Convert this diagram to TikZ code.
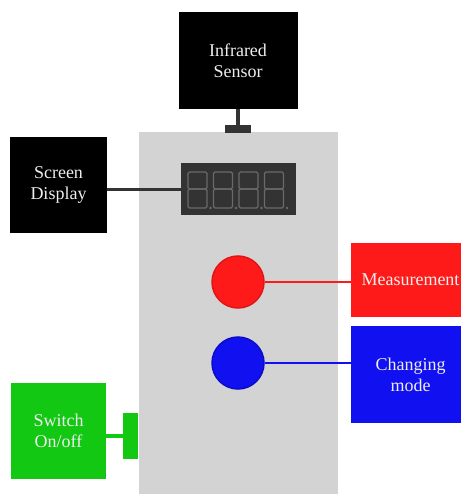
\documentclass[tikz,border=0pt]{standalone}
\usepackage{fontspec}
\setmainfont{Liberation Serif}
\definecolor{bodygray}{HTML}{D3D3D3}
\definecolor{dispgray}{HTML}{333333}
\definecolor{seggray}{HTML}{6A6A6A}
\definecolor{myred}{HTML}{FF1A1A}
\definecolor{myreddark}{HTML}{E01515}
\definecolor{myblue}{HTML}{1010F0}
\definecolor{mybluedark}{HTML}{0C0CC8}
\definecolor{mygreen}{HTML}{12C812}
\definecolor{lbltext}{HTML}{EEEEEE}
\begin{document}
\begin{tikzpicture}[x=1pt,y=-1pt,
  lbl/.style={text=lbltext, font=\fontsize{18}{21}\selectfont, align=center, inner sep=0pt, draw=none},
  segbox/.style={draw=seggray, line width=1.3pt, rounded corners=1.5pt}]
\useasboundingbox (0,0) rectangle (460,494);
\fill[white] (0,0) rectangle (460,494);
% device body
\fill[bodygray] (139,132) rectangle (338,500);
% infrared sensor
\node[lbl, fill=black, minimum width=119pt, minimum height=97pt] (ir) at (238,60.5) {Infrared\\Sensor};
\node[fill=dispgray, minimum width=26pt, minimum height=8pt, inner sep=0pt] (tb) at (238,129) {};
\draw[dispgray, line width=3.5pt] (ir.south) -- (tb.north);
% display
\node[fill=dispgray, minimum width=115pt, minimum height=52pt, inner sep=0pt] (disp) at (238.5,189) {};
\foreach \i in {0,1,2,3}{
  \pgfmathsetmacro{\xx}{188+25.5*\i}
  \draw[segbox] (\xx,172) rectangle ++(19,17);
  \draw[segbox] (\xx,189) rectangle ++(19,19);
  \fill[seggray] (\xx+22.5,208) circle (1.3pt);
}
% screen display label
\node[lbl, fill=black, minimum width=97pt, minimum height=96pt] (sd) at (58.5,185) {Screen\\Display};
\draw[dispgray, line width=3pt] (sd.east |- disp.west) -- (disp.west);
% measurement
\node[circle, fill=myred, draw=myreddark, line width=1.5pt, minimum size=52pt, inner sep=0pt] (rb) at (238,282) {};
\node[lbl, fill=myred, minimum width=119pt, minimum height=74pt] (mb) at (410.5,280) {Measurement};
\draw[myred, line width=2pt] (rb.east) -- (rb.east -| mb.west);
% changing mode
\node[circle, fill=myblue, draw=mybluedark, line width=1.5pt, minimum size=52pt, inner sep=0pt] (bb) at (238,363) {};
\node[lbl, fill=myblue, minimum width=119pt, minimum height=97pt] (cb) at (410.5,374.5) {Changing\\mode};
\draw[myblue, line width=2pt] (bb.east) -- (bb.east -| cb.west);
% switch
\node[lbl, fill=mygreen, minimum width=95pt, minimum height=96pt] (sw) at (58.5,431) {Switch\\On/off};
\node[fill=mygreen, minimum width=15pt, minimum height=46pt, inner sep=0pt] (tab) at (130.5,436) {};
\draw[mygreen, line width=4pt] (sw.east |- tab.west) -- (tab.west);
\end{tikzpicture}
\end{document}
